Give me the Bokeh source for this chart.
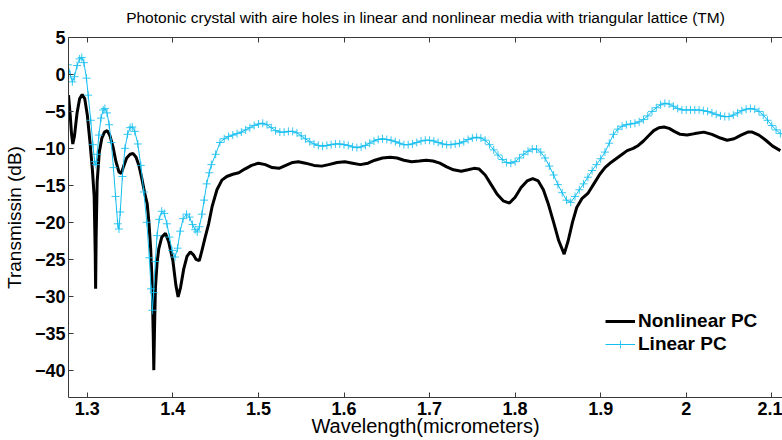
import numpy as np
from bokeh.plotting import figure
from bokeh.models import (Range1d, LinearAxis, FixedTicker, CustomJSTickFormatter,
                          Legend, LegendItem)
from bokeh.embed import file_html
from bokeh.resources import INLINE

# ---------------- data ----------------
x_ticks = [1.3, 1.4, 1.5, 1.6, 1.7, 1.8, 1.9, 2.0, 2.1]
y_ticks = [-40, -35, -30, -25, -20, -15, -10, -5, 0, 5]

# Nonlinear PC (black)
nl_x = [1.2780, 1.2800, 1.2815, 1.2830, 1.2850, 1.2880, 1.2910, 1.2940, 1.2970, 1.3000,
        1.3030, 1.3060, 1.3080, 1.3092, 1.3097, 1.3103, 1.3115, 1.3140, 1.3170, 1.3200,
        1.3233, 1.3265, 1.3300, 1.3335, 1.3370, 1.3396, 1.3425, 1.3460, 1.3500, 1.3536,
        1.3570, 1.3605, 1.3641, 1.3670, 1.3700, 1.3720, 1.3740, 1.3758, 1.3770, 1.3777,
        1.3786, 1.3796, 1.3815, 1.3835, 1.3870, 1.3913, 1.3950, 1.4000, 1.4035, 1.4061,
        1.4090, 1.4127, 1.4165, 1.4204, 1.4240, 1.4270, 1.4309, 1.4340, 1.4380, 1.4418,
        1.4460, 1.4515, 1.4573, 1.4630, 1.4700, 1.4770, 1.4840, 1.4920, 1.5000, 1.5080,
        1.5160, 1.5240, 1.5320, 1.5400, 1.5467, 1.5550, 1.5650, 1.5739, 1.5820, 1.5920,
        1.6010, 1.6100, 1.6190, 1.6280, 1.6360, 1.6450, 1.6540, 1.6620, 1.6700, 1.6790,
        1.6880, 1.6960, 1.7040, 1.7120, 1.7200, 1.7280, 1.7370, 1.7450, 1.7520, 1.7580,
        1.7650, 1.7720, 1.7790, 1.7860, 1.7934, 1.8000, 1.8070, 1.8140, 1.8206, 1.8270,
        1.8330, 1.8390, 1.8450, 1.8510, 1.8573, 1.8620, 1.8670, 1.8720, 1.8780, 1.8850,
        1.8920, 1.8990, 1.9050, 1.9120, 1.9180, 1.9240, 1.9310, 1.9380, 1.9440, 1.9500,
        1.9560, 1.9620, 1.9680, 1.9740, 1.9800, 1.9860, 1.9930, 2.0010, 2.0100, 2.0206,
        2.0300, 2.0400, 2.0478, 2.0560, 2.0640, 2.0720, 2.0771, 2.0850, 2.0930, 2.1010,
        2.1100]
nl_y = [-2.8, -5.5, -8.0, -9.4, -8.3, -5.2, -3.3, -2.7, -3.3, -5.5,
        -9.0, -13.0, -16.5, -24.0, -29.0, -22.0, -14.5, -10.5, -8.6, -7.8,
        -7.6, -8.3, -9.8, -11.8, -13.2, -13.4, -12.4, -11.3, -10.8, -10.7,
        -11.2, -12.4, -14.3, -16.0, -17.5, -20.0, -23.5, -28.3, -35.0, -40.0,
        -34.0, -28.8, -25.5, -23.6, -22.0, -21.5, -22.6, -25.2, -28.5, -30.1,
        -28.8, -26.3, -24.6, -24.0, -24.4, -25.0, -25.2, -23.8, -21.9, -20.2,
        -17.8, -15.6, -14.3, -13.8, -13.5, -13.3, -12.8, -12.3, -12.0, -12.2,
        -12.6, -12.7, -12.3, -11.9, -11.8, -12.0, -12.3, -12.4, -12.2, -11.9,
        -11.8, -12.0, -12.2, -12.0, -11.6, -11.3, -11.2, -11.3, -11.6, -11.8,
        -11.7, -11.6, -11.7, -12.0, -12.5, -12.9, -13.1, -12.9, -12.7, -12.8,
        -13.6, -14.9, -16.2, -17.1, -17.4, -16.6, -15.3, -14.4, -14.1, -14.4,
        -15.6, -17.6, -20.0, -22.5, -24.3, -22.5, -20.0, -18.0, -16.8, -16.1,
        -14.8, -13.5, -12.6, -11.9, -11.4, -10.9, -10.3, -10.0, -9.6, -9.0,
        -8.3, -7.6, -7.2, -7.1, -7.3, -7.7, -8.1, -8.2, -8.0, -7.8,
        -8.1, -8.6, -8.9, -8.7, -8.2, -7.8, -7.8, -8.2, -8.9, -9.7,
        -10.3]

# Linear PC (cyan), left oscillating part
lin_x_left = [1.2775, 1.2800, 1.2825, 1.2850, 1.2880, 1.2910, 1.2935, 1.2960, 1.2990, 1.3010,
              1.3040, 1.3065, 1.3085, 1.3100, 1.3115, 1.3135, 1.3160, 1.3185, 1.3205, 1.3230,
              1.3255, 1.3280, 1.3305, 1.3330, 1.3355, 1.3370, 1.3385, 1.3410, 1.3440, 1.3470,
              1.3500, 1.3525, 1.3555, 1.3590, 1.3625, 1.3660, 1.3695, 1.3725, 1.3745, 1.3760,
              1.3775, 1.3795, 1.3815, 1.3840, 1.3870, 1.3900, 1.3930, 1.3960, 1.3990, 1.4025,
              1.4055, 1.4085, 1.4120, 1.4160, 1.4195, 1.4230, 1.4260, 1.4285, 1.4310, 1.4340,
              1.4365, 1.4395, 1.4425, 1.4450]
lin_y_left = [1.3, 0.0, -1.0, -0.3, 1.2, 2.1, 2.3, 1.6, -0.5, -2.8,
              -6.2, -9.5, -11.8, -12.2, -10.8, -8.2, -5.9, -4.8, -4.6, -5.2,
              -6.8, -9.2, -12.6, -16.5, -20.2, -20.9, -18.6, -13.8, -10.0, -8.1,
              -7.2, -7.1, -7.7, -9.4, -12.3, -15.9, -20.0, -24.8, -29.0, -31.9,
              -29.5, -25.3, -21.8, -19.6, -18.5, -18.8, -20.2, -22.0, -23.8, -24.7,
              -23.5, -21.2, -19.5, -18.9, -19.3, -20.3, -21.0, -21.3, -20.6, -18.9,
              -17.0, -14.8, -13.3, -12.2]
# Linear PC (cyan), sampled every 0.005 um from 1.450 to 2.110
lin_x_right = [round(1.450 + 0.005 * i, 3) for i in range(133)]
lin_y_right = [-10.8, -9.2, -8.7, -8.4, -8.2, -8.0, -7.8, -7.5, -7.2, -6.9,
               -6.7, -6.6, -6.8, -7.2, -7.6, -7.8, -7.8, -7.7, -7.7, -7.9,
               -8.3, -8.7, -9.1, -9.4, -9.6, -9.7, -9.6, -9.5, -9.4, -9.4,
               -9.5, -9.6, -9.8, -9.9, -9.8, -9.6, -9.3, -9.0, -8.8, -8.7,
               -8.8, -8.9, -9.1, -9.3, -9.5, -9.5, -9.4, -9.2, -9.0, -8.9,
               -8.9, -9.0, -9.2, -9.4, -9.5, -9.5, -9.4, -9.3, -9.1, -8.8,
               -8.6, -8.5, -8.6, -8.9, -9.5, -10.2, -10.9, -11.5, -11.9, -12.0,
               -11.8, -11.3, -10.8, -10.4, -10.1, -10.1, -10.5, -11.3, -12.4, -13.6,
               -14.9, -16.0, -17.0, -17.3, -16.5, -15.6, -14.8, -13.9, -13.0, -12.2,
               -11.4, -10.5, -9.3, -8.1, -7.4, -7.0, -6.8, -6.7, -6.6, -6.4,
               -6.1, -5.6, -5.0, -4.5, -4.1, -3.9, -4.0, -4.3, -4.6, -4.8,
               -4.8, -4.8, -4.8, -4.8, -4.9, -5.0, -5.2, -5.4, -5.6, -5.7,
               -5.7, -5.5, -5.2, -4.9, -4.7, -4.6, -4.7, -5.0, -5.5, -6.2,
               -6.9, -7.5, -8.0]
lin_x = lin_x_left + lin_x_right
lin_y = lin_y_left + lin_y_right

title_text = "Photonic crystal with aire holes in linear and nonlinear media with triangular lattice (TM)"
x_label = "Wavelength(micrometers)"
y_label = "Transmissin (dB)"
series_names = ["Nonlinear PC", "Linear PC"]

# ---------------- figure ----------------
FONT = "Liberation Sans"
CYAN = "#14BEF0"
AXC = "#3a3a3a"

p = figure(width=782, height=440, output_backend="svg", toolbar_location=None,
           x_range=Range1d(1.278, 2.1125), y_range=Range1d(-43.7, 5),
           min_border_left=66, min_border_right=0, min_border_top=37, min_border_bottom=43)
p.outline_line_color = None
p.grid.visible = False
p.background_fill_color = "white"
p.border_fill_color = "white"

r_nl = p.line(nl_x, nl_y, line_color="black", line_width=3)
r_lin = p.line(lin_x, lin_y, line_color=CYAN, line_width=1)
r_lin_m = p.scatter(lin_x, lin_y, marker="cross", size=8, line_color=CYAN,
                    line_width=1, line_alpha=0.85)

fmt = CustomJSTickFormatter(code="return (Math.round(tick*10)/10).toString();")

xa = p.xaxis[0]
xa.ticker = FixedTicker(ticks=x_ticks)
xa.formatter = fmt
xa.axis_label = x_label
ya = p.yaxis[0]
ya.ticker = FixedTicker(ticks=y_ticks)
ya.axis_label = y_label

# top box edge with inward ticks; its axis label carries the chart title
top = LinearAxis(ticker=FixedTicker(ticks=x_ticks),
                 formatter=CustomJSTickFormatter(code="return '';"),
                 major_label_text_font_size="10px", major_label_standoff=0,
                 axis_label=title_text)
p.add_layout(top, "above")

for ax in [xa, ya, top]:
    ax.major_tick_in = 5
    ax.major_tick_out = 0
    ax.minor_tick_line_color = None
    ax.axis_line_color = AXC
    ax.major_tick_line_color = AXC
    ax.major_label_text_font = FONT
    ax.major_label_text_font_style = "bold"
    ax.major_label_text_color = "black"
    ax.axis_label_text_font = FONT
    ax.axis_label_text_font_style = "normal"
    ax.axis_label_text_color = "black"
for ax in [xa, ya]:
    ax.major_label_text_font_size = "18px"
xa.axis_label_text_font_size = "20px"
ya.axis_label_text_font_size = "19px"
top.axis_label_text_font_size = "15.5px"
xa.major_label_standoff = 4
ya.major_label_standoff = 3
xa.axis_label_standoff = -3
ya.axis_label_standoff = 7
top.axis_label_standoff = 12

legend = Legend(items=[LegendItem(label=series_names[0], renderers=[r_nl]),
                       LegendItem(label=series_names[1], renderers=[r_lin, r_lin_m])],
                location=(537, 42), orientation="vertical",
                label_text_font=FONT, label_text_font_style="bold", label_text_font_size="19px",
                label_text_color="black", glyph_width=30, glyph_height=20, label_height=20,
                label_standoff=3, spacing=1, padding=0, margin=0,
                border_line_alpha=0, background_fill_alpha=0)
p.add_layout(legend)

open("out.html", "w").write(file_html(p, INLINE))
